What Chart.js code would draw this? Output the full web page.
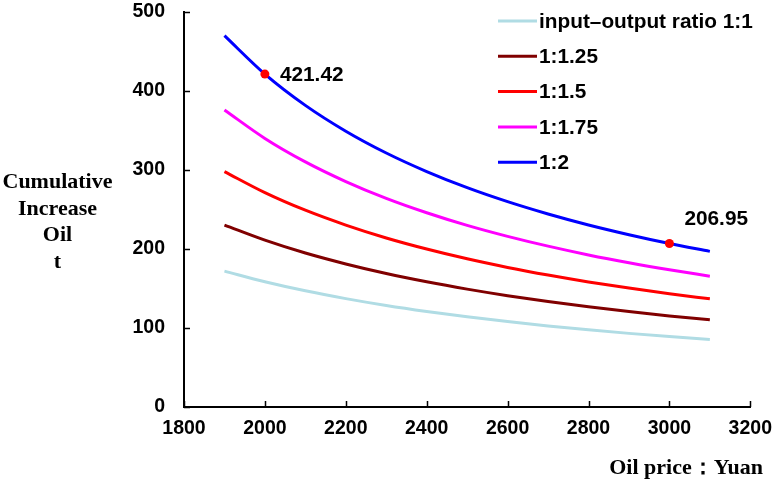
<!DOCTYPE html>
<html>
<head>
<meta charset="utf-8">
<script src="https://cdn.jsdelivr.net/npm/chart.js@4/dist/chart.umd.min.js"></script>
<style>
html,body{margin:0;padding:0;background:#fff;}
canvas{display:block;}
</style>
</head>
<body>
<canvas id="c" width="772" height="480"></canvas>
<script>
// ---- data ----
const prices = [1900, 2000, 2100, 2200, 2300, 2400, 2500, 2600, 2700, 2800, 2900, 3000, 3100];
const ratio1_1    = [172.0, 158.6, 147.1, 137.2, 128.5, 120.9, 114.1, 108.1, 102.6, 97.7, 93.2, 89.1, 85.4];
const ratio1_125  = [230.3, 211.2, 194.9, 181.1, 169.0, 158.5, 149.2, 140.9, 133.5, 126.8, 120.8, 115.3, 110.3];
const ratio1_15   = [298.0, 271.4, 249.1, 230.3, 214.0, 200.0, 187.6, 176.7, 167.0, 158.3, 150.5, 143.4, 136.9];
const ratio1_175  = [376.0, 340.0, 310.3, 285.4, 264.1, 245.9, 229.9, 216.0, 203.6, 192.5, 182.6, 173.7, 165.6];
const ratio1_2    = [470.1, 421.42, 381.8, 349.1, 321.5, 298.0, 277.6, 259.9, 244.3, 230.4, 218.1, 206.95, 197.0];
const seriesLabels = ['input\u2013output ratio 1:1', '1:1.25', '1:1.5', '1:1.75', '1:2'];
const seriesColors = ['#B0DCE4', '#800000', '#FF0000', '#FF00FF', '#0000FF'];
const markedPrices = [2000, 3000];
const xTickValues = [1800, 2000, 2200, 2400, 2600, 2800, 3000, 3200];
const yTickValues = [0, 100, 200, 300, 400, 500];
const yTitleLines = ['Cumulative', 'Increase', 'Oil', 't'];
const xTitle = 'Oil price\uFF1AYuan';

const allSeries = [ratio1_1, ratio1_125, ratio1_15, ratio1_175, ratio1_2];
const TICK_FONT = {family: '"Liberation Sans", Arial, sans-serif', size: 19.5, weight: 'bold'};

const datasets = allSeries.map((vals, k) => {
  const isLast = k === allSeries.length - 1;
  return {
    label: seriesLabels[k],
    data: vals.map((v, i) => ({x: prices[i], y: v})),
    borderColor: seriesColors[k],
    backgroundColor: seriesColors[k],
    borderWidth: 3,
    fill: false,
    cubicInterpolationMode: 'monotone',
    pointRadius: isLast ? prices.map(p => markedPrices.includes(p) ? 4.5 : 0) : 0,
    pointBackgroundColor: '#FF0000',
    pointBorderColor: '#FF0000',
    pointBorderWidth: 0,
    pointHoverRadius: 0
  };
});

const decor = {
  id: 'decor',
  afterDraw(chart) {
    const ctx = chart.ctx;
    const xs = chart.scales.x, ys = chart.scales.y;
    const a = chart.chartArea;
    ctx.save();
    // inner tick marks
    ctx.strokeStyle = '#000';
    ctx.lineWidth = 1.5;
    ctx.beginPath();
    xTickValues.forEach(v => {
      const px = Math.round(xs.getPixelForValue(v)) + 0.5;
      ctx.moveTo(px, a.bottom);
      ctx.lineTo(px, a.bottom - 6);
    });
    yTickValues.forEach(v => {
      const py = Math.round(ys.getPixelForValue(v)) + 0.5;
      ctx.moveTo(a.left, py);
      ctx.lineTo(a.left + 6, py);
    });
    ctx.stroke();

    // axis titles
    ctx.fillStyle = '#000';
    ctx.font = 'bold 22px "Liberation Serif", "Times New Roman", serif';
    ctx.textAlign = 'center';
    ctx.textBaseline = 'alphabetic';
    yTitleLines.forEach((s, i) => ctx.fillText(s, 57.5, 188 + i * 26.5));
    ctx.textAlign = 'right';
    ctx.fillText(xTitle, 763, 474);

    // legend
    ctx.font = 'bold 20.8px "Liberation Sans", Arial, sans-serif';
    ctx.textAlign = 'left';
    ctx.textBaseline = 'middle';
    chart.data.datasets.forEach((ds, i) => {
      const y = 21 + i * 35.3;
      ctx.strokeStyle = ds.borderColor;
      ctx.lineWidth = 3;
      ctx.beginPath();
      ctx.moveTo(498, y);
      ctx.lineTo(537, y);
      ctx.stroke();
      ctx.fillStyle = '#000';
      ctx.fillText(ds.label, 539, y + 1);
    });

    // point value labels on the 1:2 curve
    const meta = chart.getDatasetMeta(allSeries.length - 1);
    const offs = [[15, 0], [15, -25]];
    markedPrices.forEach((p, j) => {
      const idx = prices.indexOf(p);
      const el = meta.data[idx];
      const val = ratio1_2[idx];
      ctx.fillStyle = '#000';
      ctx.fillText(val.toFixed(2), el.x + offs[j][0], el.y + offs[j][1] + 1);
    });
    ctx.restore();
  }
};

new Chart(document.getElementById('c'), {
  type: 'line',
  data: {datasets},
  options: {
    responsive: false,
    animation: false,
    devicePixelRatio: 1,
    layout: {padding: {top: 12, right: 21, bottom: 0, left: 0}},
    plugins: {legend: {display: false}, tooltip: {enabled: false}},
    scales: {
      x: {
        type: 'linear',
        min: 1800, max: 3200,
        afterBuildTicks: s => { s.ticks = xTickValues.map(v => ({value: v})); },
        afterFit: s => { s.height = 73; },
        ticks: {font: TICK_FONT, color: '#000', padding: 0, maxRotation: 0, autoSkip: false,
                callback: v => String(v)},
        grid: {display: false, drawTicks: true, tickLength: 10},
        border: {display: true, color: '#000', width: 2}
      },
      y: {
        min: 0, max: 500,
        afterBuildTicks: s => { s.ticks = yTickValues.map(v => ({value: v})); },
        afterFit: s => { s.width = 184; },
        ticks: {font: TICK_FONT, color: '#000', padding: 0, callback: v => String(v)},
        grid: {display: false, drawTicks: true, tickLength: 19},
        border: {display: true, color: '#000', width: 2}
      }
    }
  },
  plugins: [decor]
});
</script>
</body>
</html>
